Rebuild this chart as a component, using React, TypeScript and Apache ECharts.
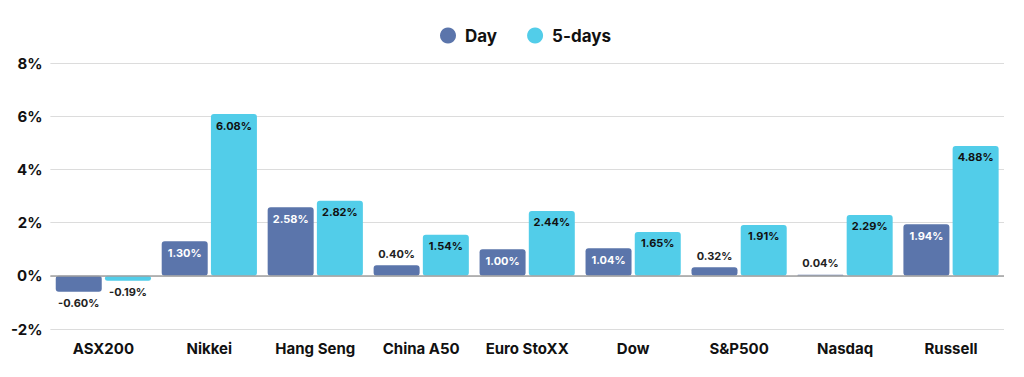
import React, { useEffect, useRef } from "react";
import * as echarts from "echarts";

const categories = ["ASX200", "Nikkei", "Hang Seng", "China A50", "Euro StoXX", "Dow", "S&P500", "Nasdaq", "Russell"];
const dayValues = [-0.6, 1.3, 2.58, 0.4, 1.0, 1.04, 0.32, 0.04, 1.94];
const fiveDayValues = [-0.19, 6.08, 2.82, 1.54, 2.44, 1.65, 1.91, 2.29, 4.88];
const yTicks = { min: -2, max: 8, interval: 2 };

const FONT = "Inter, 'Open Sans', sans-serif";

function labelled(values: number[], insideColor: string) {
  return values.map((v) => {
    let label: any;
    if (v < 0) {
      label = { position: "bottom", color: "#222", distance: 6 };
    } else if (v >= 0.8) {
      label = { position: "insideTop", color: insideColor, distance: 6 };
    } else {
      label = { position: "top", color: "#222", distance: 6 };
    }
    return { value: v, label };
  });
}

export default function App() {
  const ref = useRef<HTMLDivElement>(null);
  useEffect(() => {
    if (!ref.current) return;
    const chart = echarts.init(ref.current, null, { renderer: "svg" });
    const labelBase = {
      show: true,
      fontFamily: FONT,
      fontWeight: "bold",
      fontSize: 11,
      formatter: (p: any) => `${Number(p.value).toFixed(2)}%`,
    };
    chart.setOption({
      animation: false,
      textStyle: { fontFamily: FONT },
      legend: {
        top: 14,
        left: 427,
        icon: "circle",
        itemWidth: 16,
        itemHeight: 16,
        itemGap: 30,
        textStyle: {
          fontFamily: FONT,
          fontWeight: "bold",
          fontSize: 17,
          color: "#111",
          padding: [0, 0, 0, 4],
        },
        data: ["Day", "5-days"],
      },
      grid: { left: 42, right: 12, top: 55, bottom: 40 },
      xAxis: {
        type: "category",
        data: categories,
        axisLine: { show: false, onZero: false },
        axisTick: { show: false },
        axisLabel: { interval: 0, margin: 12, fontSize: 15, fontWeight: "bold", color: "#111", fontFamily: FONT },
      },
      yAxis: {
        type: "value",
        min: yTicks.min,
        max: yTicks.max,
        interval: yTicks.interval,
        axisLabel: {
          formatter: "{value}%",
          fontSize: 15,
          fontWeight: "bold",
          color: "#111",
          margin: 8,
          fontFamily: FONT,
        },
        splitLine: { lineStyle: { color: "#dcdcdc", width: 1 } },
      },
      series: [
        {
          name: "Day",
          type: "bar",
          data: labelled(dayValues, "#ffffff"),
          barWidth: 46,
          barGap: "7%",
          itemStyle: { color: "#5b75ab", borderRadius: 3 },
          label: labelBase,
          markLine: {
            silent: true,
            symbol: "none",
            label: { show: false },
            lineStyle: { color: "#a0a0a0", width: 1.5, type: "solid" },
            data: [{ yAxis: 0 }],
          },
          z: 3,
        },
        {
          name: "5-days",
          type: "bar",
          data: labelled(fiveDayValues, "#111111"),
          barWidth: 46,
          barGap: "7%",
          itemStyle: { color: "#52cde9", borderRadius: 3 },
          label: labelBase,
          z: 3,
        },
      ],
    });
    return () => chart.dispose();
  }, []);
  return <div ref={ref} style={{ width: 1008, height: 361 }} />;
}
